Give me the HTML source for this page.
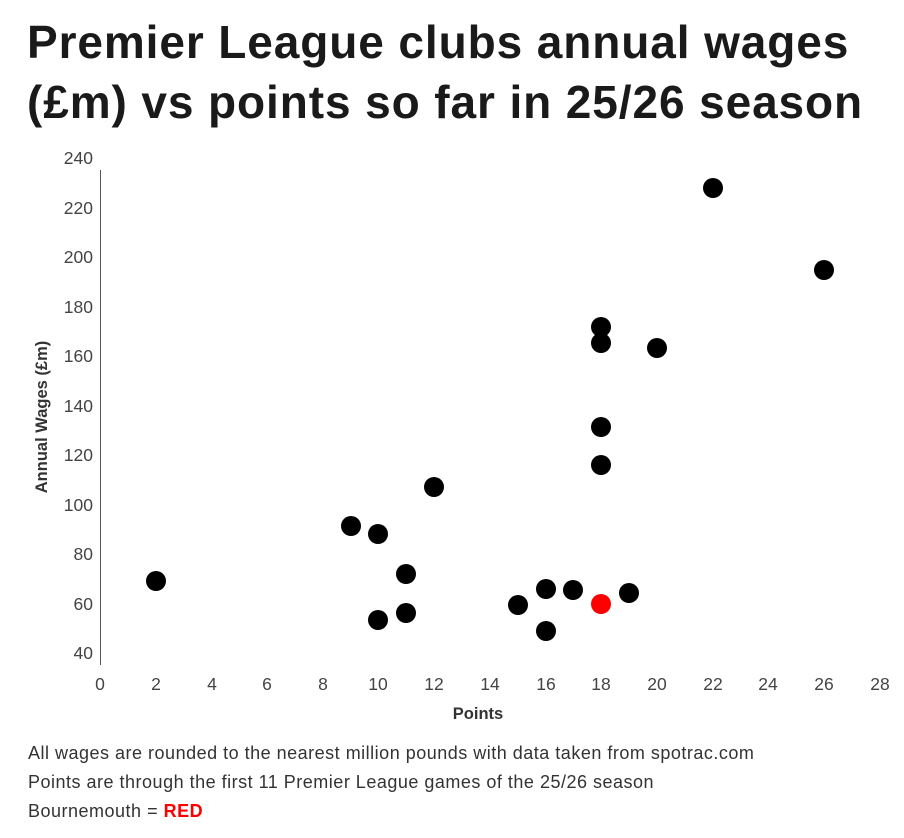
<!DOCTYPE html>
<html><head><meta charset="utf-8"><style>
body{margin:0;background:#fff;width:904px;height:838px;overflow:hidden;font-family:"Liberation Sans",Arial,sans-serif}
.t{position:absolute;left:27px;top:12px;font-size:46px;font-weight:bold;color:#1a1a1a;line-height:60px;letter-spacing:0.9px}
.f{position:absolute;left:28px;font-size:18px;color:#333;letter-spacing:0.5px}
</style></head><body>
<div class="t">Premier League clubs annual wages<br>(£m) vs points so far in 25/26 season</div>
<svg width="904" height="838" style="position:absolute;left:0;top:0">
<line x1="100.5" y1="170" x2="100.5" y2="665" stroke="#555" stroke-width="1"/>
<g font-size="17.5" fill="#444" text-anchor="end">
<text x="93" y="164">240</text><text x="93" y="214">220</text><text x="93" y="263">200</text>
<text x="93" y="313">180</text><text x="93" y="362">160</text><text x="93" y="412">140</text>
<text x="93" y="461">120</text><text x="93" y="511">100</text><text x="93" y="560">80</text>
<text x="93" y="610">60</text><text x="93" y="659">40</text>
</g>
<g font-size="17.5" fill="#444" text-anchor="middle">
<text x="100" y="690">0</text><text x="156" y="690">2</text><text x="212" y="690">4</text>
<text x="267" y="690">6</text><text x="323" y="690">8</text><text x="378" y="690">10</text>
<text x="434" y="690">12</text><text x="490" y="690">14</text><text x="546" y="690">16</text>
<text x="601" y="690">18</text><text x="657" y="690">20</text><text x="713" y="690">22</text>
<text x="768" y="690">24</text><text x="824" y="690">26</text><text x="880" y="690">28</text>
</g>
<text x="478" y="719" font-size="16.5" font-weight="bold" fill="#333" text-anchor="middle">Points</text>
<text transform="translate(47,417) rotate(-90)" font-size="16.5" font-weight="bold" fill="#333" text-anchor="middle">Annual Wages (£m)</text>
<g fill="#000">
<circle cx="156" cy="581" r="10"/><circle cx="351" cy="526" r="10"/><circle cx="378" cy="534" r="10"/>
<circle cx="378" cy="620" r="10"/><circle cx="406" cy="574" r="10"/><circle cx="406" cy="613" r="10"/>
<circle cx="434" cy="487" r="10"/><circle cx="518" cy="605" r="10"/><circle cx="546" cy="589" r="10"/>
<circle cx="546" cy="631" r="10"/><circle cx="573" cy="590" r="10"/><circle cx="629" cy="593" r="10"/>
<circle cx="601" cy="465" r="10"/><circle cx="601" cy="427" r="10"/><circle cx="601" cy="343" r="10"/>
<circle cx="601" cy="327" r="10"/><circle cx="657" cy="348" r="10"/><circle cx="713" cy="188" r="10"/>
<circle cx="824" cy="270" r="10"/>
</g>
<circle cx="601" cy="604" r="10" fill="#f00"/>
</svg>
<div class="f" style="top:743px">All wages are rounded to the nearest million pounds with data taken from spotrac.com</div>
<div class="f" style="top:772px">Points are through the first 11 Premier League games of the 25/26 season</div>
<div class="f" style="top:801px">Bournemouth = <b style="color:#f00">RED</b></div>
</body></html>
